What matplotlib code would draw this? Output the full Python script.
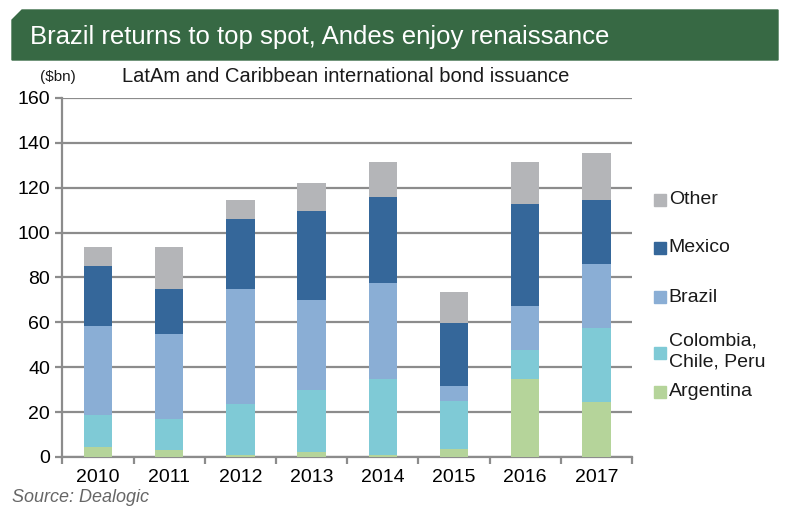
import matplotlib
matplotlib.use("Agg")
import matplotlib.pyplot as plt
from matplotlib.patches import Polygon
from matplotlib import font_manager

# pick a narrow font if one is there
names = set(f.name for f in font_manager.fontManager.ttflist)
if "Liberation Sans Narrow" in names:
    fnt = "Liberation Sans Narrow"
else:
    fnt = "Liberation Sans"
plt.rcParams['font.family'] = [fnt, 'DejaVu Sans']

years = ['2010', '2011', '2012', '2013', '2014', '2015', '2016', '2017']
argentina = [4.5, 3.0, 1.0, 2.2, 0.8, 3.7, 34.8, 24.7]
col_chile_peru = [14.4, 14.1, 22.8, 27.5, 34.1, 21.3, 12.7, 32.8]
brazil = [39.3, 37.9, 51.2, 40.1, 42.7, 6.5, 20.0, 28.5]
mexico = [26.8, 19.9, 31.1, 39.7, 38.4, 28.4, 45.4, 28.4]
other = [8.6, 18.7, 8.3, 12.6, 15.4, 13.5, 18.5, 21.1]

series = [argentina, col_chile_peru, brazil, mexico, other]
labels = ['Argentina', 'Colombia,\nChile, Peru', 'Brazil', 'Mexico', 'Other']
colors = ['#b5d49a', '#7fcad6', '#8aaed5', '#35679a', '#b4b5b8']

fig = plt.figure(figsize=(8, 5.28), dpi=100)
ax = fig.add_axes([0.078, 0.1345, 0.712, 0.68])

x = list(range(len(years)))
bottom = [0.0] * len(years)
for vals, col in zip(series, colors):
    ax.bar(x, vals, width=0.4, bottom=bottom, color=col, zorder=3)
    bottom = [b + v for b, v in zip(bottom, vals)]

ax.set_xlim(-0.5, len(years) - 0.5)
ax.set_ylim(0, 160)
ax.set_yticks(range(0, 161, 20))
ax.yaxis.grid(True, color='#8c8c8c', linewidth=1.6, zorder=0)
ax.set_axisbelow(True)
for s in ['top', 'right']:
    ax.spines[s].set_visible(False)
for s in ['left', 'bottom']:
    ax.spines[s].set_color('#8c8c8c')
    ax.spines[s].set_linewidth(1.6)

# year labels at centres, tick marks between bars
ax.set_xticks([i + 0.5 for i in range(-1, len(years))])
ax.set_xticklabels([])
ax.set_xticks(x, minor=True)
ax.set_xticklabels(years, minor=True, fontsize=14)
ax.tick_params(axis='x', which='minor', length=0, pad=9)
ax.tick_params(axis='x', which='major', length=5, color='#8c8c8c', width=1.6)
ax.tick_params(axis='y', length=5, color='#8c8c8c', width=1.6, labelsize=14, pad=4)

# legend by hand on the right
leg_y = [392, 353, 297, 248, 200]
for lab, col, py in zip(labels, colors, leg_y):
    fy = 1 - py / 528.0
    fig.patches.append(plt.Rectangle((0.818, fy - 0.012), 0.014, 0.024,
                                     transform=fig.transFigure, color=col))
    if '\n' in lab:
        fig.text(0.836, 1 - 332 / 528.0, lab, fontsize=14, va='top',
                 color='#1a1a1a', linespacing=1.35)
    else:
        fig.text(0.836, fy, lab, fontsize=14, va='center', color='#1a1a1a')

# green title banner with clipped corner
banner = Polygon([(12 / 800, 1 - 60 / 528), (12 / 800, 1 - 20 / 528), (22 / 800, 1 - 10 / 528),
                  (778 / 800, 1 - 10 / 528), (778 / 800, 1 - 60 / 528)],
                 closed=True, transform=fig.transFigure, color='#376944')
fig.patches.append(banner)
fig.text(30 / 800, 1 - 37 / 528, 'Brazil returns to top spot, Andes enjoy renaissance',
         color='white', fontsize=18.5, va='center')

fig.text(40 / 800, 1 - 77 / 528, '($bn)', fontsize=11, va='center', color='#1a1a1a')
fig.text(122 / 800, 1 - 77 / 528, 'LatAm and Caribbean international bond issuance',
         fontsize=14.5, va='center', color='#1a1a1a')
fig.text(12 / 800, 1 - 498 / 528, 'Source: Dealogic', fontsize=13, style='italic',
         va='center', color='#666666')

fig.savefig('out.png', dpi=100)
